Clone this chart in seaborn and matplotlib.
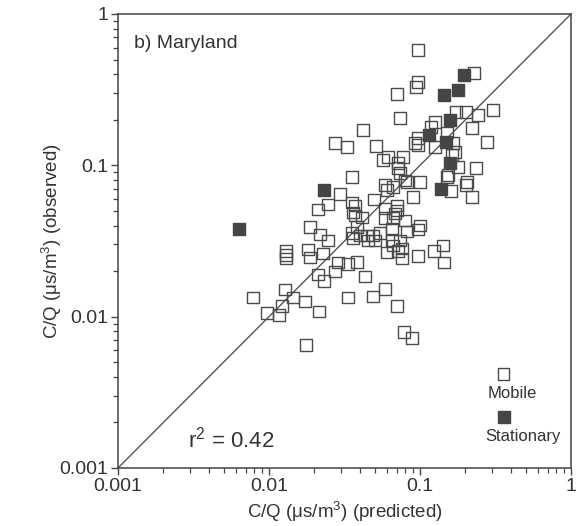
import numpy as np
import pandas as pd
import matplotlib
matplotlib.use("Agg")
import matplotlib.pyplot as plt
import matplotlib.ticker as mticker
import seaborn as sns

# ---- data (C/Q values, us/m^3) ----
mobile_pred = [0.097, 0.228, 0.097, 0.094, 0.070, 0.305, 0.173, 0.202, 0.242, 0.0737,
               0.126, 0.118, 0.221, 0.0419, 0.151, 0.097, 0.278, 0.0511, 0.0927, 0.097,
               0.165, 0.0273, 0.0329, 0.126, 0.171, 0.163, 0.0614, 0.0772, 0.0568, 0.0715,
               0.179, 0.235, 0.0715, 0.0737, 0.0354, 0.153, 0.151, 0.0795, 0.082, 0.100,
               0.205, 0.202, 0.0586, 0.0663, 0.0605, 0.160, 0.0295, 0.0899, 0.221, 0.0496,
               0.0354, 0.0246, 0.0211, 0.0371, 0.070, 0.0586, 0.070, 0.036, 0.0683, 0.0371,
               0.0413, 0.0586, 0.0663, 0.0795, 0.100, 0.097, 0.082, 0.0653, 0.0383, 0.0187,
               0.0218, 0.0246, 0.0354, 0.036, 0.040, 0.0446, 0.0488, 0.0543, 0.0452, 0.0503,
               0.0653, 0.0737, 0.0663, 0.076, 0.0605, 0.0715, 0.076, 0.097, 0.124, 0.142,
               0.144, 0.0130, 0.0130, 0.0130, 0.0181, 0.0187, 0.0228, 0.0287, 0.0334, 0.0383,
               0.0211, 0.0273, 0.0231, 0.0432, 0.0128, 0.00783, 0.0144, 0.0173, 0.0122, 0.0097,
               0.0117, 0.0214, 0.0334, 0.0488, 0.0586, 0.070, 0.0783, 0.0885, 0.0176]
mobile_obs = [0.577, 0.407, 0.355, 0.329, 0.295, 0.231, 0.224, 0.224, 0.214, 0.205,
              0.193, 0.179, 0.176, 0.171, 0.165, 0.151, 0.142, 0.134, 0.140, 0.136,
              0.140, 0.140, 0.132, 0.132, 0.122, 0.117, 0.113, 0.113, 0.108, 0.103,
              0.097, 0.0956, 0.0956, 0.0885, 0.0833, 0.086, 0.0833, 0.0795, 0.0772, 0.0772,
              0.0772, 0.0737, 0.0737, 0.0715, 0.0683, 0.0673, 0.0643, 0.0614, 0.0614, 0.0595,
              0.0568, 0.0551, 0.0511, 0.0543, 0.0543, 0.0519, 0.0503, 0.0488, 0.0481, 0.0466,
              0.0452, 0.0446, 0.0446, 0.0432, 0.040, 0.0377, 0.0365, 0.0383, 0.0389, 0.0389,
              0.0349, 0.0319, 0.0355, 0.0329, 0.0344, 0.0344, 0.0344, 0.0355, 0.0319, 0.0319,
              0.0319, 0.0319, 0.0295, 0.0282, 0.0265, 0.0273, 0.0242, 0.0253, 0.0273, 0.0295,
              0.0228, 0.0273, 0.0257, 0.0242, 0.0278, 0.0246, 0.0261, 0.0228, 0.0224, 0.0231,
              0.0190, 0.0199, 0.0173, 0.0184, 0.0151, 0.0134, 0.0134, 0.0126, 0.0118, 0.0106,
              0.0103, 0.0108, 0.0134, 0.0136, 0.0153, 0.0117, 0.00795, 0.00726, 0.00653]

stationary_pred = [0.196, 0.179, 0.144, 0.158, 0.115, 0.149, 0.158, 0.138, 0.0231, 0.00633]
stationary_obs = [0.394, 0.314, 0.291, 0.199, 0.158, 0.142, 0.103, 0.0693, 0.0683, 0.0377]

tick_values = [0.001, 0.01, 0.1, 1]
tick_labels = ["0.001", "0.01", "0.1", "1"]
r2_text = "r$^{2}$ = 0.42"
panel_title = "b) Maryland"
series_names = ["Mobile", "Stationary"]

df = pd.DataFrame({
    "pred": mobile_pred + stationary_pred,
    "obs": mobile_obs + stationary_obs,
    "source": [series_names[0]] * len(mobile_pred) + [series_names[1]] * len(stationary_pred),
})

sns.set_theme(style="white")
plt.rcParams["font.family"] = ["Liberation Sans", "DejaVu Sans"]
plt.rcParams["mathtext.default"] = "regular"

edge = "#4a4a4a"
msize = 72
fig = plt.figure(figsize=(5.79, 5.26), dpi=100)
ax = fig.add_axes([0.2038, 0.1103, 0.7824, 0.8631])

ax.set_xscale("log")
ax.set_yscale("log")
ax.set_xlim(0.001, 1)
ax.set_ylim(0.001, 1)

# 1:1 line
sns.lineplot(x=tick_values, y=tick_values, ax=ax, color="#555555", linewidth=1.0)

sns.scatterplot(data=df[df.source == series_names[0]], x="pred", y="obs", ax=ax,
                marker="s", s=msize, facecolor="none", edgecolor=edge, linewidth=1.0,
                legend=False, zorder=3)
sns.scatterplot(data=df[df.source == series_names[1]], x="pred", y="obs", ax=ax,
                marker="s", s=msize, color="#454545", edgecolor="#454545", linewidth=1.0,
                legend=False, zorder=4)

# axes styling
for sp in ax.spines.values():
    sp.set_color("#444444")
    sp.set_linewidth(1.1)
ax.xaxis.set_major_locator(mticker.FixedLocator(tick_values))
ax.yaxis.set_major_locator(mticker.FixedLocator(tick_values))
ax.xaxis.set_major_formatter(mticker.FixedFormatter(tick_labels))
ax.yaxis.set_major_formatter(mticker.FixedFormatter(tick_labels))
ax.xaxis.set_minor_locator(mticker.LogLocator(base=10, subs=np.arange(2, 10)))
ax.yaxis.set_minor_locator(mticker.LogLocator(base=10, subs=np.arange(2, 10)))
ax.xaxis.set_minor_formatter(mticker.NullFormatter())
ax.yaxis.set_minor_formatter(mticker.NullFormatter())
ax.tick_params(which="major", direction="out", length=5, width=1.0, color="#444444",
               labelsize=14, labelcolor="#333333", pad=2, bottom=True, left=True)
ax.tick_params(which="minor", direction="out", length=3.5, width=0.9, color="#444444",
               bottom=True, left=True)

ax.set_xlabel("C/Q (\u03bcs/m$^{3}$) (predicted)", fontsize=13.5, color="#333333", labelpad=4)
ax.set_ylabel("C/Q (\u03bcs/m$^{3}$) (observed)", fontsize=13.5, color="#333333", labelpad=-3)

ax.text(0.035, 0.935, panel_title, transform=ax.transAxes, fontsize=14, color="#333333",
        ha="left", va="center")
ax.text(0.155, 0.063, r2_text, transform=ax.transAxes, fontsize=16, color="#333333",
        ha="left", va="center")

# legend (marker above label)
ax.scatter([0.851], [0.207], transform=ax.transAxes, marker="s", s=msize, facecolor="none",
           edgecolor=edge, linewidth=1.0, clip_on=False)
ax.text(0.87, 0.165, series_names[0], transform=ax.transAxes, fontsize=12, color="#333333",
        ha="center", va="center")
ax.scatter([0.851], [0.113], transform=ax.transAxes, marker="s", s=msize, color="#454545",
           clip_on=False)
ax.text(0.895, 0.07, series_names[1], transform=ax.transAxes, fontsize=12, color="#333333",
        ha="center", va="center")

fig.savefig("out.png", dpi=100, facecolor="white")
